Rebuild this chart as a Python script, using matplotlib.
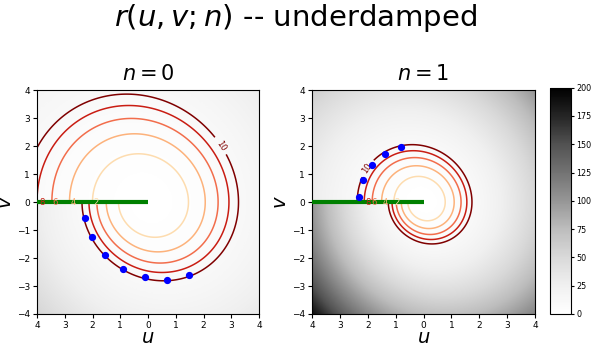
import numpy as np
import matplotlib
matplotlib.use("Agg")
import matplotlib.pyplot as plt
from matplotlib.colors import Normalize

# ---- model parameters / data ----
zeta = 0.1                      # damping ratio of the underdamped oscillator
sheets = [0, 1]                 # revolution index n
contour_levels = [2, 4, 6, 8, 10]
tick_vals = [-4, -3, -2, -1, 0, 1, 2, 3, 4]
xtick_labels = ["4", "3", "2", "1", "0", "1", "2", "3", "4"]
ytick_labels = ["\u22124", "\u22123", "\u22122", "\u22121", "0", "1", "2", "3", "4"]
cbar_ticks = [0, 25, 50, 75, 100, 125, 150, 175, 200]

# blue trajectory samples (u, v)
pts_u = {0: [-2.27, -2.01, -1.54, -0.90, -0.12, 0.68, 1.49],
         1: [-2.32, -2.18, -1.85, -1.39, -0.82]}
pts_v = {0: [-0.56, -1.24, -1.88, -2.38, -2.67, -2.77, -2.61],
         1: [0.17, 0.80, 1.34, 1.73, 1.98]}

# green branch-cut segment
cut_u = [-4.0, 0.0]
cut_v = [0.0, 0.0]

# contour label positions: level 10 on its curve, others on the cut
label10_pos = {0: (2.6, 2.0), 1: (-2.02, 1.21)}
cut_label_levels = [8, 6, 4, 2]
cut_label_u = {0: [-3.83, -3.35, -2.69, -1.88],
               1: [-2.0, -1.78, -1.38, -0.96]}


def r_field(U, V, n):
    wd = np.sqrt(1 - zeta ** 2)
    c = -(U + zeta * V)
    s = wd * V
    phi = np.mod(np.arctan2(s, c), 2 * np.pi)
    R = np.hypot(c, s)
    t = (phi + 2 * np.pi * n) / wd
    A = R * np.exp(zeta * t)
    return A ** 2 / 2


g = np.linspace(-4, 4, 400)
U, V = np.meshgrid(g, g)

fig = plt.figure(figsize=(5.92, 3.46), dpi=100)
fig.suptitle(r"$r(u,v;n)$ -- underdamped", fontsize=21, y=0.995)

norm_c = Normalize(vmin=0, vmax=10)
cmap_c = plt.get_cmap("OrRd")

ax_pos = [[0.0625, 0.0925, 0.375, 0.647], [0.527, 0.0925, 0.377, 0.647]]
im = None
for n, pos in zip(sheets, ax_pos):
    ax = fig.add_axes(pos)
    Z = r_field(U, V, n)
    im = ax.imshow(Z, extent=[-4, 4, -4, 4], origin="lower", cmap="Greys",
                   vmin=0, vmax=200, aspect="auto", interpolation="bilinear")
    ax.contour(U, V, Z, levels=contour_levels[:-1], cmap=cmap_c,
               norm=norm_c, linewidths=1.1)
    cs10 = ax.contour(U, V, Z, levels=contour_levels[-1:], cmap=cmap_c,
                      norm=norm_c, linewidths=1.1)
    ax.clabel(cs10, fontsize=6, inline=True,
              manual=[label10_pos[n]], fmt="%d")
    ax.plot(cut_u, cut_v, color="green", lw=3.0, solid_capstyle="butt", zorder=4)
    for lev, xu in zip(cut_label_levels, cut_label_u[n]):
        ax.text(xu, 0.0, "%d" % lev, color=cmap_c(norm_c(lev)), fontsize=6,
                ha="center", va="center", zorder=6)
    ax.plot(pts_u[n], pts_v[n], "o", color="blue", ms=4.2, zorder=5)
    ax.set_xlim(-4, 4)
    ax.set_ylim(-4, 4)
    ax.set_xticks(tick_vals)
    ax.set_xticklabels(xtick_labels)
    ax.set_yticks(tick_vals)
    ax.set_yticklabels(ytick_labels)
    ax.tick_params(labelsize=6.5, length=3, pad=2)
    ax.set_xlabel(r"$u$", fontsize=14, labelpad=-1.5)
    ax.set_ylabel(r"$v$", fontsize=14)
    ax.yaxis.set_label_coords(-0.1, 0.5)
    ax.set_title(r"$n = %d$" % n, fontsize=15, pad=7)

cax = fig.add_axes([0.929, 0.0925, 0.0355, 0.654])
cb = fig.colorbar(im, cax=cax, ticks=cbar_ticks)
cb.ax.tick_params(labelsize=5.8, length=2.5, pad=1.5)

fig.savefig("out.png", dpi=100)
